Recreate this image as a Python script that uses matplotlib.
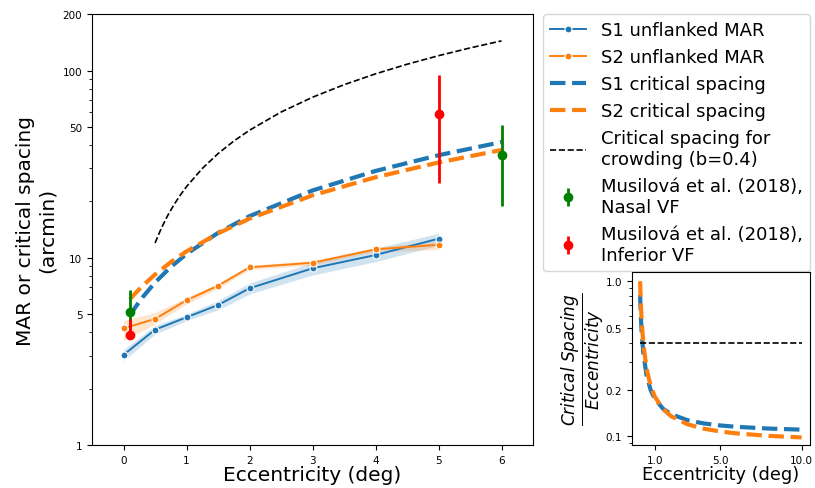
import matplotlib
matplotlib.use("Agg")
import matplotlib.pyplot as plt
import numpy as np

# unflanked MAR (arcmin), mean and CI band
ecc_mar = [0, 0.5, 1, 1.5, 2, 3, 4, 5]
s1_mar = [3.03, 4.13, 4.81, 5.59, 6.87, 8.78, 10.34, 12.64]
s1_lo = [2.82, 3.91, 4.61, 5.27, 6.41, 8.08, 9.53, 11.64]
s1_hi = [3.23, 4.34, 5.0, 5.9, 7.33, 9.44, 11.24, 13.5]
s2_mar = [4.2, 4.71, 5.93, 7.09, 8.89, 9.4, 11.09, 11.73]
s2_lo = [3.61, 4.43, 5.66, 6.85, 8.66, 9.13, 10.78, 11.04]
s2_hi = [4.61, 5.1, 6.14, 7.33, 9.1, 9.67, 11.36, 12.3]

# critical spacing (arcmin)
ecc_cs = [0.1, 0.15, 0.2, 0.3, 0.5, 0.75, 1, 1.5, 2, 3, 4, 5, 6, 8, 10]
s1_cs = [4.9, 5.21, 5.52, 6.14, 7.38, 8.93, 10.48, 13.58, 16.68, 22.88, 29.08,
         35.28, 41.48, 53.88, 66.28]
s2_cs = [6.0, 6.26, 6.53, 7.07, 8.14, 9.48, 10.82, 13.5, 16.18, 21.54, 26.9,
         32.26, 37.62, 48.34, 59.06]

# crowding critical spacing, b = 0.4
ecc_crowd = [0.5, 0.6, 0.7, 0.8, 0.9, 1, 1.25, 1.5, 1.75, 2, 2.5, 3, 3.5, 4,
             4.5, 5, 5.5, 6]
crowd = [12, 14.4, 16.8, 19.2, 21.6, 24, 30, 36, 42, 48, 60, 72, 84, 96,
         108, 120, 132, 144]
bouma = 0.4

# Musilova et al. (2018)
nasal_x = [0.1, 6]
nasal_y = [5.11, 35.2]
nasal_lo = [4.0, 18.9]
nasal_hi = [6.74, 51.1]
inf_x = [0.1, 5]
inf_y = [3.88, 58.5]
inf_lo = [3.68, 25.2]
inf_hi = [4.7, 94.5]

blue, orange = "#1f77b4", "#ff7f0e"

fig = plt.figure(figsize=(8.15, 4.89), dpi=100)
ax = fig.add_axes([0.113, 0.088, 0.541, 0.881])

ax.fill_between(ecc_mar, s1_lo, s1_hi, color=blue, alpha=0.2, lw=0)
ax.fill_between(ecc_mar, s2_lo, s2_hi, color=orange, alpha=0.2, lw=0)
ax.plot(ecc_mar, s1_mar, color=blue, lw=1.4, marker="o", ms=5, mec="white",
        mew=0.8, label="S1 unflanked MAR")
ax.plot(ecc_mar, s2_mar, color=orange, lw=1.4, marker="o", ms=5, mec="white",
        mew=0.8, label="S2 unflanked MAR")

ecc_cs_a = np.array(ecc_cs)
main = ecc_cs_a <= 6
ax.plot(ecc_cs_a[main], np.array(s1_cs)[main], color=blue, lw=3, ls="--",
        label="S1 critical spacing")
ax.plot(ecc_cs_a[main], np.array(s2_cs)[main], color=orange, lw=3, ls="--",
        label="S2 critical spacing")
ax.plot(ecc_crowd, crowd, color="black", lw=1.2, ls="--",
        label="Critical spacing for\ncrowding (b=0.4)")

ny = np.array(nasal_y)
ax.errorbar(nasal_x, nasal_y, yerr=[ny - nasal_lo, np.array(nasal_hi) - ny],
            fmt="o", color="green", ms=6, elinewidth=2,
            label="Musilová et al. (2018),\nNasal VF")
iy = np.array(inf_y)
ax.errorbar(inf_x, inf_y, yerr=[iy - inf_lo, np.array(inf_hi) - iy],
            fmt="o", color="red", ms=6, elinewidth=2,
            label="Musilová et al. (2018),\nInferior VF")

ax.set_yscale("log")
ax.set_ylim(1, 200)
ax.set_xlim(-0.5, 6.5)
ax.set_yticks([1, 5, 10, 50, 100, 200])
ax.set_yticklabels(["1", "5", "10", "50", "100", "200"])
ax.set_xticks(range(7))
ax.tick_params(labelsize=7.5)
ax.set_xlabel("Eccentricity (deg)", fontsize=14.5, labelpad=0)
ax.set_ylabel("MAR or critical spacing\n(arcmin)", fontsize=14.5)
ax.legend(loc="upper left", bbox_to_anchor=(1.023, 1.0), borderaxespad=0,
          fontsize=13)

# inset: critical spacing / eccentricity
ins = fig.add_axes([0.7755, 0.088, 0.218, 0.354])
ins.plot(ecc_cs, np.array(s1_cs) / 60 / ecc_cs_a, color=blue, lw=3, ls="--")
ins.plot(ecc_cs, np.array(s2_cs) / 60 / ecc_cs_a, color=orange, lw=3, ls="--")
ins.plot([ecc_cs[0], ecc_cs[-1]], [bouma, bouma], color="black", lw=1.2, ls="--")
ins.set_yscale("log")
ins.set_ylim(0.088, 1.15)
ins.set_yticks([0.1, 0.2, 0.5, 1.0])
ins.set_yticklabels(["0.1", "0.2", "0.5", "1.0"])
ins.set_xticks([1, 5, 10])
ins.set_xticklabels(["1.0", "5.0", "10.0"])
ins.tick_params(labelsize=7.5)
ins.set_xlabel("Eccentricity (deg)", fontsize=12.8, labelpad=0)
ins.set_ylabel(r"$\frac{Critical\ Spacing}{Eccentricity}$", fontsize=17.3,
               labelpad=-1)

fig.savefig("out.png", dpi=100)
